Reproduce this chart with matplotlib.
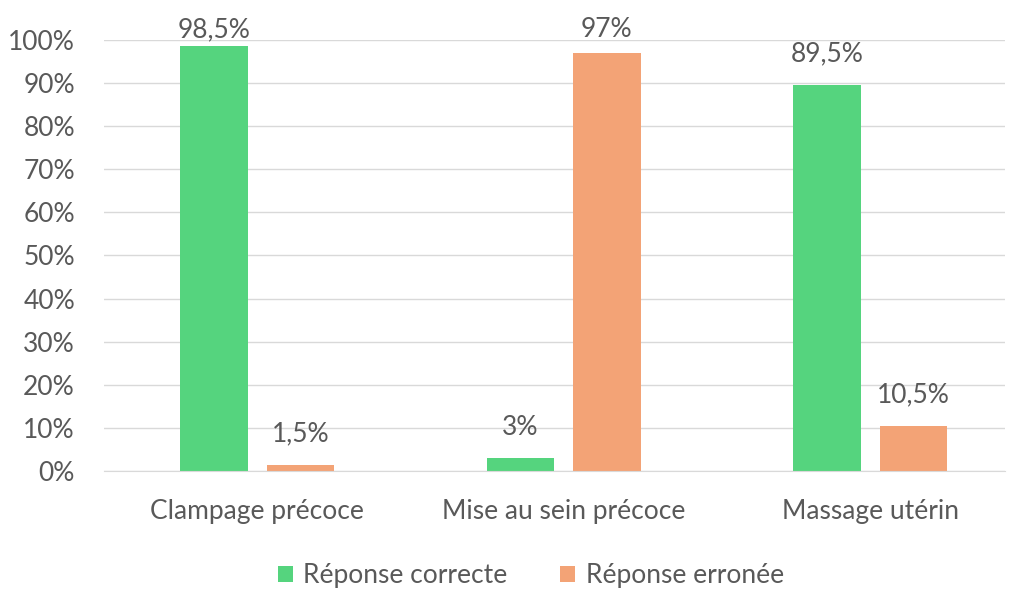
import matplotlib.pyplot as plt
import numpy as np
from matplotlib.ticker import FuncFormatter

categories = ["Clampage précoce", "Mise au sein précoce", "Massage utérin"]
correct = [98.5, 3, 89.5]
wrong = [1.5, 97, 10.5]
series_names = ["Réponse correcte", "Réponse erronée"]

GREEN = "#55D47E"
ORANGE = "#F3A376"
TXT = "#595959"
FS = 19

plt.rcParams["font.family"] = ["Lato", "DejaVu Sans"]

fig = plt.figure(figsize=(10.11, 5.90), dpi=100)
ax = fig.add_axes([0.103, 0.2017, 0.891, 0.7305])

x = np.arange(len(categories))
bw = 0.22
off = 0.141

b1 = ax.bar(x - off, correct, bw, color=GREEN, label=series_names[0], zorder=3)
b2 = ax.bar(x + off, wrong, bw, color=ORANGE, label=series_names[1], zorder=3)

def fmt(v):
    s = f"{v:g}".replace(".", ",")
    return s + "%"

# labels sit above each bar, clamped near the top of the plot
for xs, vals in [(x - off, correct), (x + off, wrong)]:
    for xi, v in zip(xs, vals):
        y = min(v + 7.2, 102.4)
        ax.text(xi, y, fmt(v), ha="center", va="center", fontsize=FS,
                color=TXT, clip_on=False)

ax.set_ylim(0, 100)
ax.set_xlim(-0.5, 2.44)
ax.set_yticks(np.arange(0, 101, 10))
ax.yaxis.set_major_formatter(FuncFormatter(lambda v, p: f"{v:.0f}%"))
ax.set_xticks(x)
ax.set_xticklabels(categories)
ax.tick_params(axis="both", length=0, labelsize=FS, colors=TXT)
ax.tick_params(axis="x", pad=20)
ax.tick_params(axis="y", pad=21)

ax.grid(axis="y", color="#D9D9D9", linewidth=1, zorder=0)
for s in ["top", "right", "left"]:
    ax.spines[s].set_visible(False)
ax.spines["bottom"].set_color("#D9D9D9")
ax.spines["bottom"].set_zorder(4)

fig.legend(handles=[b1, b2], loc="center", bbox_to_anchor=(531 / 1011, 1 - 576 / 590),
           ncol=2, frameon=False, fontsize=FS, labelcolor=TXT,
           handlelength=0.55, handleheight=0.55, handletextpad=0.4, columnspacing=2.0)

fig.savefig("out.png", dpi=100)
